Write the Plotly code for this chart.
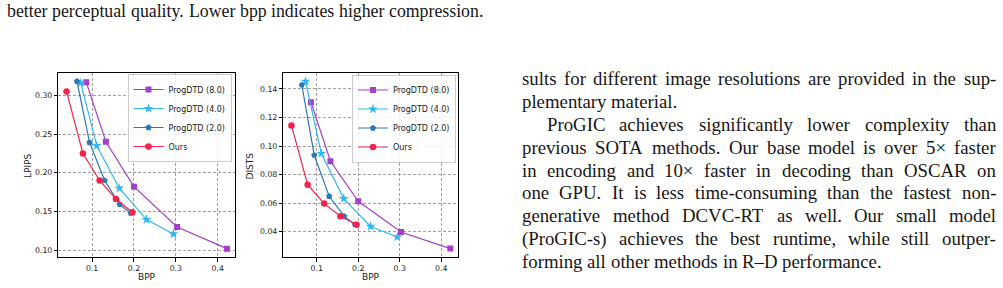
import plotly.graph_objects as go

W, H = 1003, 288

# ---------------- data ----------------
series_names = ["ProgDTD (8.0)", "ProgDTD (4.0)", "ProgDTD (2.0)", "Ours"]
bpp_8 = [0.086, 0.133, 0.200, 0.303, 0.422]
bpp_4 = [0.073, 0.111, 0.165, 0.230, 0.294]
bpp_2 = [0.064, 0.094, 0.130, 0.166, 0.192]
bpp_ours = [0.039, 0.078, 0.118, 0.157, 0.196]

lpips_8 = [0.317, 0.240, 0.182, 0.130, 0.102]
lpips_4 = [0.316, 0.235, 0.180, 0.1395, 0.121]
lpips_2 = [0.318, 0.239, 0.190, 0.159, 0.148]
lpips_ours = [0.305, 0.225, 0.190, 0.166, 0.149]

dists_8 = [0.1307, 0.0894, 0.0613, 0.0398, 0.0282]
dists_4 = [0.1453, 0.0948, 0.0632, 0.0437, 0.0363]
dists_2 = [0.1428, 0.0936, 0.0648, 0.0509, 0.0451]
dists_ours = [0.1145, 0.0729, 0.0597, 0.0509, 0.0449]

bpp_ticks = [0.1, 0.2, 0.3, 0.4]
bpp_ticktext = ["0.1", "0.2", "0.3", "0.4"]
lpips_ticks = [0.10, 0.15, 0.20, 0.25, 0.30]
lpips_ticktext = ["0.10", "0.15", "0.20", "0.25", "0.30"]
dists_ticks = [0.04, 0.06, 0.08, 0.10, 0.12, 0.14]
dists_ticktext = ["0.04", "0.06", "0.08", "0.10", "0.12", "0.14"]

caption_line = "better perceptual quality. Lower bpp indicates higher compression."
body_lines = [
    "sults for different image resolutions are provided in the sup-",
    "plementary material.",
    "ProGIC achieves significantly lower complexity than",
    "previous SOTA methods. Our base model is over 5\u00d7 faster",
    "in encoding and 10\u00d7 faster in decoding than OSCAR on",
    "one GPU. It is less time-consuming than the fastest non-",
    "generative method DCVC-RT as well. Our small model",
    "(ProGIC-s) achieves the best runtime, while still outper-",
    "forming all other methods in R\u2013D performance.",
]
body_justified = [True, False, True, True, True, True, True, True, False]
body_indent = [False, False, True, False, False, False, False, False, False]

# ---------------- style ----------------
colors = ["#a53fc9", "#2db8f6", "#2a78b8", "#f8204c"]
symbols = ["square", "star", "pentagon", "circle"]
msizes = [6, 7.5, 6.5, 6.5]

fig = go.Figure()

bpps = [bpp_8, bpp_4, bpp_2, bpp_ours]
lp = [lpips_8, lpips_4, lpips_2, lpips_ours]
ds = [dists_8, dists_4, dists_2, dists_ours]

for i, name in enumerate(series_names):
    fig.add_trace(go.Scatter(
        x=bpps[i], y=lp[i], name=name, mode="lines+markers",
        line=dict(color=colors[i], width=1.2),
        marker=dict(symbol=symbols[i], size=msizes[i], color=colors[i]),
        xaxis="x", yaxis="y", legend="legend"))
for i, name in enumerate(series_names):
    fig.add_trace(go.Scatter(
        x=bpps[i], y=ds[i], name=name, mode="lines+markers",
        line=dict(color=colors[i], width=1.2),
        marker=dict(symbol=symbols[i], size=msizes[i], color=colors[i]),
        xaxis="x2", yaxis="y2", legend="legend2"))

tickfont = dict(family="DejaVu Sans", size=7.8, color="#222222")
axis_common = dict(
    showline=True, linecolor="black", linewidth=1, mirror=True,
    ticks="outside", ticklen=3.5, tickwidth=0.8, tickcolor="black",
    showgrid=True, gridcolor="#a0a0a0", gridwidth=0.8, griddash="3px,2px",
    zeroline=False, tickfont=tickfont,
)

top_px, bot_px = 73, 257
ydom = [1 - bot_px / H, 1 - top_px / H]

leg_font = dict(family="DejaVu Sans", size=8, color="#222222")
fig.update_layout(
    width=W, height=H, margin=dict(l=0, r=0, t=0, b=0),
    paper_bgcolor="white", plot_bgcolor="white",
    xaxis=dict(domain=[58.4 / W, 235.1 / W], range=[0.0196, 0.4414],
               tickvals=bpp_ticks, ticktext=bpp_ticktext, anchor="y", **axis_common),
    yaxis=dict(domain=ydom, range=[0.0912, 0.3288],
               tickvals=lpips_ticks, ticktext=lpips_ticktext, anchor="x", **axis_common),
    xaxis2=dict(domain=[283.4 / W, 458.4 / W], range=[0.0196, 0.4414],
                tickvals=bpp_ticks, ticktext=bpp_ticktext, anchor="y2", **axis_common),
    yaxis2=dict(domain=ydom, range=[0.0223, 0.1512],
                tickvals=dists_ticks, ticktext=dists_ticktext, anchor="x2", **axis_common),
    showlegend=True,
    legend=dict(x=231.5 / W, xanchor="right", y=1 - 74 / H, yanchor="top",
                bgcolor="rgba(255,255,255,0.85)", bordercolor="#cccccc", borderwidth=1,
                font=leg_font, tracegroupgap=0, itemwidth=30),
    legend2=dict(x=456 / W, xanchor="right", y=1 - 74.5 / H, yanchor="top",
                 bgcolor="rgba(255,255,255,0.85)", bordercolor="#cccccc", borderwidth=1,
                 font=leg_font, tracegroupgap=0, itemwidth=30),
)

# axis titles
lab_font = dict(family="DejaVu Sans", size=9, color="#222222")
fig.add_annotation(x=146.8 / W, y=1 - 277 / H, xref="paper", yref="paper", text="BPP",
                   showarrow=False, font=lab_font, xanchor="center", yanchor="middle")
fig.add_annotation(x=370.9 / W, y=1 - 277 / H, xref="paper", yref="paper", text="BPP",
                   showarrow=False, font=lab_font, xanchor="center", yanchor="middle")
fig.add_annotation(x=28.0 / W, y=1 - 166 / H, xref="paper", yref="paper", text="LPIPS",
                   showarrow=False, font=lab_font, textangle=-90, xanchor="center", yanchor="middle")
fig.add_annotation(x=249.5 / W, y=1 - 166 / H, xref="paper", yref="paper", text="DISTS",
                   showarrow=False, font=lab_font, textangle=-90, xanchor="center", yanchor="middle")

# ---------------- surrounding paper text ----------------
TW = {' ': 250, '!': 333, '(': 333, ')': 333, ',': 250, '-': 333, '.': 250, ':': 278, ';': 278,
      '0': 500, '1': 500, '2': 500, '3': 500, '4': 500, '5': 500, '6': 500, '7': 500, '8': 500, '9': 500,
      'A': 722, 'B': 667, 'C': 667, 'D': 722, 'E': 611, 'F': 556, 'G': 722, 'H': 722, 'I': 333, 'J': 389,
      'K': 722, 'L': 611, 'M': 889, 'N': 722, 'O': 722, 'P': 556, 'Q': 722, 'R': 667, 'S': 556, 'T': 611,
      'U': 722, 'V': 722, 'W': 944, 'X': 722, 'Y': 722, 'Z': 611,
      'a': 444, 'b': 500, 'c': 444, 'd': 500, 'e': 444, 'f': 333, 'g': 500, 'h': 500, 'i': 278, 'j': 278,
      'k': 500, 'l': 278, 'm': 778, 'n': 500, 'o': 500, 'p': 500, 'q': 500, 'r': 333, 's': 389, 't': 278,
      'u': 500, 'v': 500, 'w': 722, 'x': 500, 'y': 500, 'z': 444, '\u00d7': 564, '\u2013': 500}


def tw(s, size):
    return sum(TW.get(c, 500) for c in s) * size / 1000.0


SERIF = "Liberation Serif"
TXT_COLOR = "#161616"


def put_word(word, xpx, baseline, size):
    top = baseline - 0.891 * size
    fig.add_annotation(x=xpx / W, y=1 - top / H, xref="paper", yref="paper", text=word,
                       showarrow=False, xanchor="left", yanchor="top", borderpad=0, borderwidth=0,
                       font=dict(family=SERIF, size=size, color=TXT_COLOR))


def put_line(text, left, right, baseline, size, justify):
    words = text.split(" ")
    widths = [tw(w, size) for w in words]
    if justify and len(words) > 1:
        gap = (right - left - sum(widths)) / (len(words) - 1)
    else:
        gap = 0.25 * size
    x = left
    for w, wd in zip(words, widths):
        put_word(w, x, baseline, size)
        x += wd + gap


# caption (last line of figure caption)
cap_size = (483 - 7) / (tw(caption_line, 1000) / 1000.0)
cap_size = round(min(max(cap_size, 15.5), 18.0), 2)
put_line(caption_line, 7, 483, 17.2, cap_size, False)

BODY = 18.8
base0, lead = 85.0, 22.85
for k, line in enumerate(body_lines):
    left = 546.5 if body_indent[k] else 522.0
    put_line(line, left, 996.0, base0 + k * lead, BODY, body_justified[k])

fig.write_html("out.html")
